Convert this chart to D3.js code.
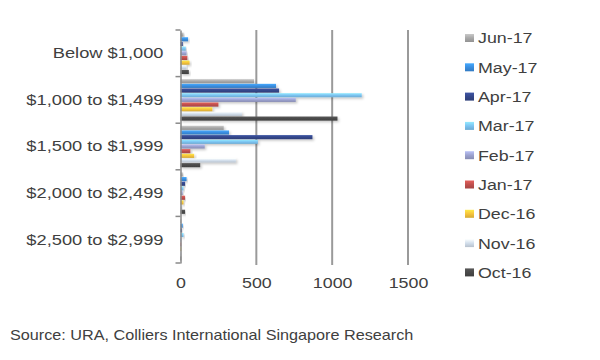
<!DOCTYPE html>
<html><head><meta charset="utf-8">
<script src="https://cdn.jsdelivr.net/npm/d3@7"></script>
<style>body{margin:0;background:#fff;} svg{display:block;font-family:Arial,"Liberation Sans",sans-serif;}</style>
</head><body><div id="chart"></div>
<script>
const categories = ["Below $1,000", "$1,000 to $1,499", "$1,500 to $1,999", "$2,000 to $2,499", "$2,500 to $2,999"];
const seriesNames = ["Jun-17", "May-17", "Apr-17", "Mar-17", "Feb-17", "Jan-17", "Dec-16", "Nov-16", "Oct-16"];
const jun17 = [20, 485, 285, 15, 5];
const may17 = [50, 630, 320, 40, 15];
const apr17 = [15, 650, 870, 30, 10];
const mar17 = [35, 1195, 510, 20, 20];
const feb17 = [40, 760, 160, 15, 5];
const jan17 = [45, 250, 65, 30, 5];
const dec16 = [60, 210, 90, 20, 5];
const nov16 = [40, 405, 365, 10, 5];
const oct16 = [55, 1035, 130, 30, 5];
const xTicks = [0, 500, 1000, 1500];
const seriesValues = [jun17, may17, apr17, mar17, feb17, jan17, dec16, nov16, oct16];
const colors = ["#a8a8a8", "#3a8ee0", "#34478a", "#7cc4f2", "#9ca2cf", "#c0504d", "#f6c43c", "#d3dfec", "#4a4a4a"];

const W = 600, H = 360;
const SX = 1.15, SY = 1.18;
const svg = d3.select("#chart").append("svg").attr("width", W).attr("height", H);
const defs = svg.append("defs");
colors.forEach((c, i) => {
  const g = defs.append("linearGradient").attr("id", "g" + i).attr("x1", 0).attr("y1", 0).attr("x2", 0).attr("y2", 1);
  g.append("stop").attr("offset", "0%").attr("stop-color", d3.color(c).brighter(0.5));
  g.append("stop").attr("offset", "50%").attr("stop-color", c);
  g.append("stop").attr("offset", "100%").attr("stop-color", d3.color(c).darker(0.4));
});
const f = defs.append("filter").attr("id", "sh").attr("x", "-10%").attr("y", "-50%").attr("width", "130%").attr("height", "250%");
f.append("feDropShadow").attr("dx", 1.5).attr("dy", 1.5).attr("stdDeviation", 1).attr("flood-color", "#000").attr("flood-opacity", 0.22);

const x = d3.scaleLinear().domain([0, 1500]).range([180.5, 408]);
const y = d3.scaleBand().domain(categories).range([30, 263]).paddingInner(0).paddingOuter(0);
const yi = d3.scaleBand().domain(seriesNames).range([0, y.bandwidth()]).paddingInner(0.12).paddingOuter(0.55);

// gridlines
svg.append("g").selectAll("line").data(xTicks.filter(t => t > 0)).join("line")
  .attr("x1", d => x(d)).attr("x2", d => x(d)).attr("y1", 30).attr("y2", 265)
  .attr("stroke", "#9a9a9a").attr("stroke-width", 2);

// bars
const groups = svg.append("g").selectAll("g").data(categories).join("g")
  .attr("transform", d => `translate(0,${y(d)})`);
groups.selectAll("rect").data((c, ci) => seriesNames.map((s, si) => ({s, si, v: seriesValues[si][ci]}))).join("rect")
  .attr("x", x(0)).attr("y", d => yi(d.s)).attr("height", yi.bandwidth())
  .attr("width", d => x(d.v) - x(0))
  .attr("fill", d => `url(#g${d.si})`).attr("filter", "url(#sh)");

// y axis
const yAxis = svg.append("g").attr("transform", `translate(${x(0)},0)`)
  .call(d3.axisLeft(y).tickSize(0).tickPadding(17));
yAxis.select(".domain").attr("stroke", "#8a8a8a").attr("stroke-width", 1.5);
yAxis.selectAll("text").attr("font-size", 15.5).attr("fill", "#404040")
  .attr("x", -17 / SY).attr("transform", `scale(${SY},1)`);
svg.append("g").selectAll("line").data(categories.map(c => y(c)).concat([y.range()[1]])).join("line")
  .attr("x1", x(0) - 5).attr("x2", x(0)).attr("y1", d => d).attr("y2", d => d)
  .attr("stroke", "#8a8a8a").attr("stroke-width", 1.5);

// x axis labels
const xAxis = svg.append("g").attr("transform", `translate(0,263)`)
  .call(d3.axisBottom(x).tickValues(xTicks).tickSize(0).tickPadding(14).tickFormat(d3.format("d")));
xAxis.select(".domain").remove();
xAxis.selectAll("text").attr("font-size", 15.5).attr("fill", "#404040").attr("transform", `scale(${SX},1)`);

// legend
const leg = svg.append("g").selectAll("g").data(seriesNames).join("g")
  .attr("transform", (d, i) => `translate(465,${38 + i * 29.3})`);
leg.append("rect").attr("x", 0).attr("y", -4).attr("width", 9).attr("height", 8)
  .attr("fill", (d, i) => `url(#g${i})`);
leg.append("text").attr("x", 13 / SX).attr("y", 0).attr("dy", "0.35em").attr("transform", `scale(${SX},1)`)
  .attr("font-size", 15.5).attr("fill", "#404040").text(d => d);

// source
svg.append("text").attr("transform", "translate(10,340) scale(1.08,1)").attr("font-size", 15).attr("fill", "#404040")
  .text("Source: URA, Colliers International Singapore Research");
</script></body></html>
